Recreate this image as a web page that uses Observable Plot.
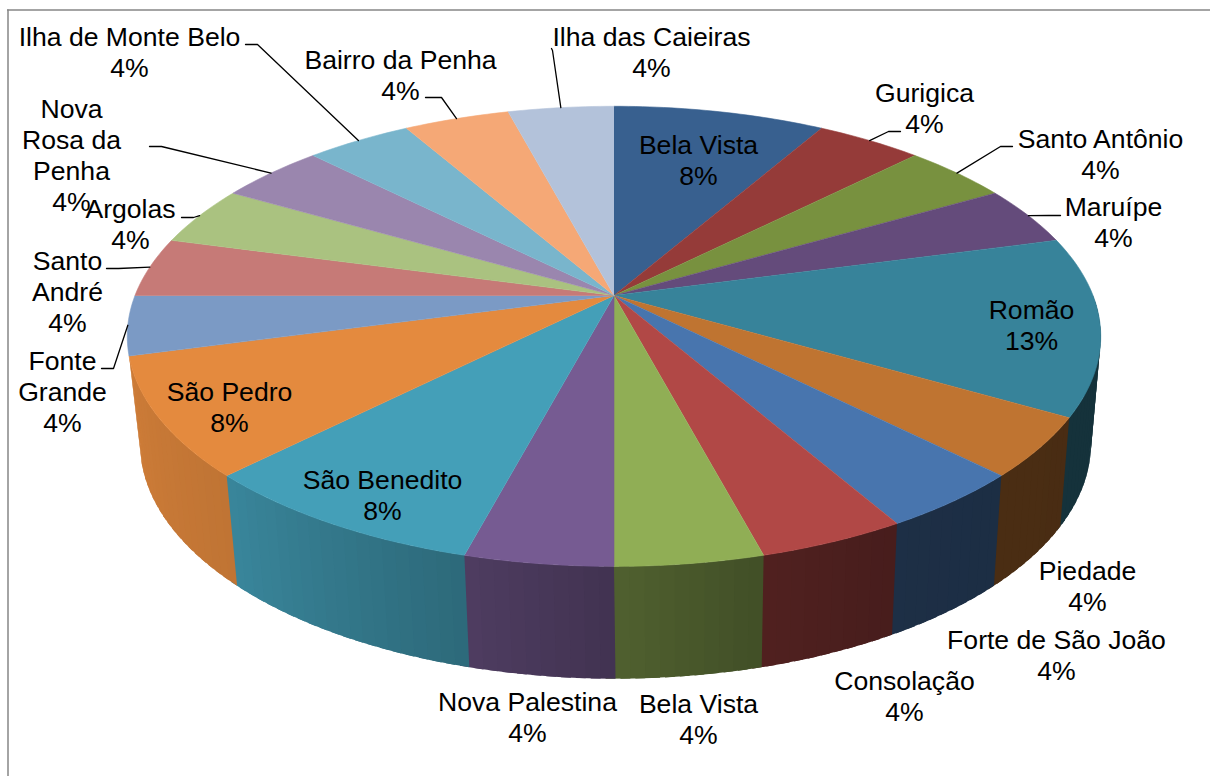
<!DOCTYPE html>
<html lang="pt">
<head>
<meta charset="utf-8">
<style>
html,body{margin:0;padding:0;background:#fff;overflow:hidden}
svg{display:block}
</style>
<script src="https://cdn.jsdelivr.net/npm/d3@7"></script>
<script src="https://cdn.jsdelivr.net/npm/@observablehq/plot@0.6"></script>
</head>
<body>
<script>
// ---- data: clockwise from 12 o'clock; each unit is one share out of the total
const sliceNames = ["Bela Vista","Gurigica","Santo Antônio","Maruípe","Romão","Piedade","Forte de São João","Consolação","Bela Vista","Nova Palestina","São Benedito","São Pedro","Fonte\nGrande","Santo\nAndré","Argolas","Nova\nRosa da\nPenha","Ilha de Monte Belo","Bairro da Penha","Ilha das Caieiras"];
const sliceShares = [2,1,1,1,3,1,1,1,1,1,2,2,1,1,1,1,1,1,1];
const sliceColors = ["#38608f","#953b39","#78913f","#644b7b","#37839a","#bf7431","#4875ae","#b14846","#90ae55","#765b92","#449fb8","#e48a3e","#7b9ac5","#c67a77","#aac280","#9a86ae","#79b5cc","#f5a876","#b3c2da"];

// ---- layout: label block centres
const labelX = [698,924,1100,1113,1031,1087,1056,904,698,527,382,229,62,67,130,71,129,400,651];
const labelY = [159,107,153,221,324,585,654,695,718,716,494,406,391,291,223,154,51,74,51];
// ---- layout: leader start and elbow by slice index (the end sits on the slice's rim)
const leaders = [
  {i:1,  from:[900,131],  elbow:[888,131]},
  {i:2,  from:[1012,146], elbow:[1000,146]},
  {i:3,  from:[1060,215], elbow:[1048,215]},
  {i:13, from:[106,268],  elbow:[118,268]},
  {i:12, from:[101,368],  elbow:[113,368]},
  {i:14, from:[181,217],  elbow:[193,217]},
  {i:15, from:[149,146],  elbow:[161,146]},
  {i:16, from:[245,44],   elbow:[257,44]},
  {i:17, from:[425,97],   elbow:[441,97]},
  {i:18, from:[551,48],   elbow:[552,50]}
];
// ---- wall shading: brightness against the angle of the rim
const shadeAngles = [90,120,150,165,180,195,225,255];
const shadeLevels = [.38,.38,.40,.45,.55,.66,.84,.90];
const wallStart = 90, wallEnd = 255, bandStep = 1.5, bandOverlap = 1;

const rad = d => d * Math.PI / 180;
// perspective view of the disc's top and of its bottom rim
function rimTop(t){
  const s = Math.sin(rad(t)), c = Math.cos(rad(t)), w = 1 + .1775 * c;
  return [613.5 + 479 * s / w, 295 - 222.8 * c / w];
}
function rimBottom(t){
  const s = Math.sin(rad(t)), c = Math.cos(rad(t)), w = 1 + .1775 * c;
  return [615 + 468 * s / w, 401 - 228 * c / w];
}
const hub = [613.5, 295];
const total = d3.sum(sliceShares);
const edges = [0, ...d3.cumsum(sliceShares).map(v => v / total * 360)];
const shade = d3.scaleLinear(shadeAngles, shadeLevels).clamp(true);

const walls = [], tops = [];
let pid = 0;
function poly(target, points, color){
  const id = pid++;
  for (const [x, y] of points) target.push({id, x, y, color});
}
// walls of the front half, in bands that overlap the next one so no seams show
sliceNames.forEach((_, i) => {
  const a = Math.max(edges[i], wallStart), b = Math.min(edges[i + 1], wallEnd);
  if (a >= b) return;
  const n = Math.ceil((b - a) / bandStep);
  for (let k = 0; k < n; k++) {
    const t0 = a + (b - a) * k / n;
    const t1 = Math.min(a + (b - a) * (k + 1) / n + bandOverlap, wallEnd);
    const base = d3.rgb(sliceColors[i]), f = shade((t0 + t1) / 2);
    const col = d3.rgb(base.r * f, base.g * f, base.b * f).formatHex();
    poly(walls, [rimTop(t0), rimTop(t1), rimBottom(t1), rimBottom(t0)], col);
  }
});
// top faces
sliceNames.forEach((_, i) => {
  const pts = [hub];
  const n = Math.ceil(edges[i + 1] - edges[i]);
  for (let k = 0; k <= n; k++) pts.push(rimTop(edges[i] + (edges[i + 1] - edges[i]) * k / n));
  poly(tops, pts, sliceColors[i]);
});

const leaderRows = leaders.flatMap(({i, from, elbow}, j) => {
  const end = rimTop((edges[i] + edges[i + 1]) / 2);
  return [from, elbow, end].map(([x, y]) => ({j, x, y}));
});
const labels = sliceNames.map((name, i) => ({
  text: `${name}\n${Math.round(sliceShares[i] / total * 100)}%`,
  x: labelX[i], y: labelY[i]
}));

const chart = Plot.plot({
  width: 1210, height: 776,
  margin: 0,
  x: {type: "linear", domain: [0, 1210], range: [0, 1210], axis: null},
  y: {type: "linear", domain: [0, 776], range: [0, 776], axis: null},
  color: {type: "identity"},
  style: {background: "#fff"},
  marks: [
    Plot.ruleX([7.5], {y1: 9.5, y2: 776, stroke: "#868686", strokeWidth: 1.5}),
    Plot.ruleY([9.5], {x1: 7, x2: 1210, stroke: "#868686", strokeWidth: 1.5}),
    Plot.line(walls, {x: "x", y: "y", z: "id", fill: "color", stroke: "none", curve: "linear"}),
    Plot.line(tops, {x: "x", y: "y", z: "id", fill: "color", stroke: "color", strokeWidth: .6, curve: "linear"}),
    Plot.line(leaderRows, {x: "x", y: "y", z: "j", stroke: "#000", strokeWidth: 1.3, curve: "linear"}),
    Plot.text(labels, {x: "x", y: "y", text: "text", fill: "#000", fontSize: 26.6, fontFamily: "'Liberation Sans', Arial, sans-serif", lineHeight: 31 / 26.6, textAnchor: "middle", lineAnchor: "middle"})
  ]
});
document.body.appendChild(chart);
</script>
</body>
</html>
